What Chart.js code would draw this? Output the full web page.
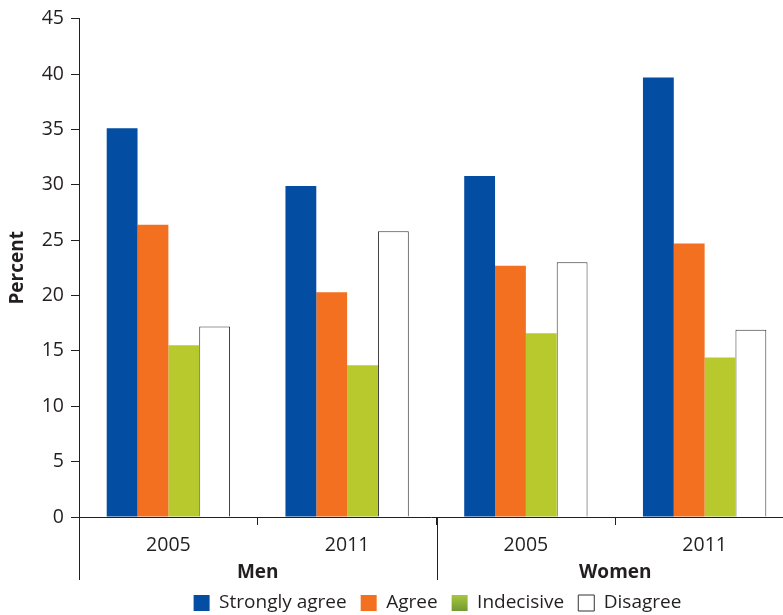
<!DOCTYPE html>
<html>
<head>
<meta charset="utf-8">
<script src="https://cdn.jsdelivr.net/npm/chart.js@4.4.1/dist/chart.umd.min.js"></script>
<style>
    html, body { margin: 0; padding: 0; background: #fff; }
    #wrap { width: 783px; height: 615px; position: relative; }
</style>
</head>
<body>
<div id="wrap"><canvas id="mainChart"></canvas></div>
<script>
// Chart data
const yearLabels = ['2005', '2011', '2005', '2011'];
const groupLabels = ['Men', 'Women'];
const yTicks = [0, 5, 10, 15, 20, 25, 30, 35, 40, 45];

const stronglyAgree = [35.1, 29.9, 30.8, 39.7];
const agree = [26.4, 20.3, 22.7, 24.7];
const indecisive = [15.5, 13.7, 16.6, 14.4];
const disagree = [17.2, 25.8, 23.0, 16.9];

const FONT = '"Open Sans", "Noto Sans", sans-serif';
const INK = '#231f20';
const OVERHANG = 11; // the original plot runs past the right edge of the picture

// plot area is cropped on the right in the original, so stretch the x scales
const widePlot = {
    id: 'widePlot',
    afterLayout(chart) {
        ['x', 'x2'].forEach(id => {
            const s = chart.scales[id];
            s.right += OVERHANG;
            s.width = s.right - s.left;
            s.configure();
        });
        chart.chartArea.right += OVERHANG;
        chart.chartArea.width += OVERHANG;
    }
};

// long separators between Men / Women groups
const groupLines = {
    id: 'groupLines',
    afterDraw(chart) {
        const x = chart.scales.x;
        const half = (x.getPixelForValue(1) - x.getPixelForValue(0)) / 2;
        const bottom = chart.chartArea.bottom;
        const ctx = chart.ctx;
        ctx.save();
        ctx.strokeStyle = INK;
        ctx.lineWidth = 1;
        [0, 2].forEach(i => {
            const px = Math.round(x.getPixelForValue(i) - half) + 0.5;
            ctx.beginPath();
            ctx.moveTo(px, bottom);
            ctx.lineTo(px, bottom + 63);
            ctx.stroke();
        });
        ctx.restore();
    }
};

// keep the legend row tight against the bottom edge, centred under the plot
const compactLegend = {
    id: 'compactLegend',
    beforeInit(chart) {
        const legend = chart.legend;
        const fit = legend.fit.bind(legend);
        legend.fit = function () {
            fit();
            this.height = 35.5;
        };
        const draw = legend.draw.bind(legend);
        legend.draw = function () {
            this.ctx.save();
            this.ctx.translate(46, 0);
            draw();
            this.ctx.restore();
        };
    },
    beforeDraw(chart) {
        // green swatch is shaded in the original
        const legend = chart.legend;
        const box = legend.legendHitBoxes[2];
        const item = legend.legendItems[2];
        if (!box || !item) return;
        const y0 = box.top + (box.height - 16) / 2;
        const grad = chart.ctx.createLinearGradient(0, y0, 0, y0 + 16);
        grad.addColorStop(0, '#a8c63f');
        grad.addColorStop(1, '#729a33');
        item.fillStyle = grad;
    }
};

new Chart(document.getElementById('mainChart'), {
    type: 'bar',
    data: {
        labels: yearLabels,
        datasets: [
            { label: 'Strongly agree', data: stronglyAgree, backgroundColor: '#034ea2', borderWidth: 0 },
            { label: 'Agree', data: agree, backgroundColor: '#f37021', borderWidth: 0 },
            { label: 'Indecisive', data: indecisive, backgroundColor: '#b7c92d', borderWidth: 0 },
            { label: 'Disagree', data: disagree, backgroundColor: '#ffffff', borderColor: '#333333', borderWidth: 1 }
        ]
    },
    options: {
        responsive: true,
        maintainAspectRatio: false,
        animation: false,
        datasets: {
            bar: { categoryPercentage: 0.69, barPercentage: 1.0 }
        },
        layout: { padding: { top: 8, right: 0, left: 0, bottom: 0 } },
        plugins: {
            tooltip: { enabled: false },
            legend: {
                position: 'bottom',
                labels: {
                    color: INK,
                    font: { family: FONT, size: 19 },
                    boxWidth: 16,
                    boxHeight: 16,
                    padding: 14,
                    useBorderRadius: false
                }
            }
        },
        scales: {
            y: {
                min: 0,
                max: 45,
                afterBuildTicks: (scale) => { scale.ticks = yTicks.map(v => ({ value: v })); },
                afterFit: (scale) => { scale.width = 79; },
                ticks: { color: INK, font: { family: FONT, size: 19.5 }, padding: 7 },
                grid: { drawOnChartArea: false, tickLength: 8, color: INK },
                border: { color: INK, width: 1 },
                title: {
                    display: true,
                    text: 'Percent',
                    color: INK,
                    font: { family: FONT, size: 19, weight: 'bold' },
                    padding: 6
                }
            },
            x: {
                afterFit: (scale) => { scale.height = 37; },
                ticks: { color: INK, font: { family: FONT, size: 19.5 }, padding: 9 },
                grid: {
                    offset: true,
                    drawOnChartArea: false,
                    tickLength: 8,
                    color: (c) => (c.index === 4 ? 'rgba(0,0,0,0)' : INK)
                },
                border: { color: INK, width: 1 }
            },
            x2: {
                type: 'category',
                labels: groupLabels,
                position: 'bottom',
                afterFit: (scale) => { scale.height = 25.5; },
                ticks: { color: INK, font: { family: FONT, size: 19, weight: 'bold' }, padding: 7 },
                grid: { display: false, drawTicks: false },
                border: { display: false }
            }
        }
    },
    plugins: [widePlot, groupLines, compactLegend]
});
</script>
</body>
</html>
